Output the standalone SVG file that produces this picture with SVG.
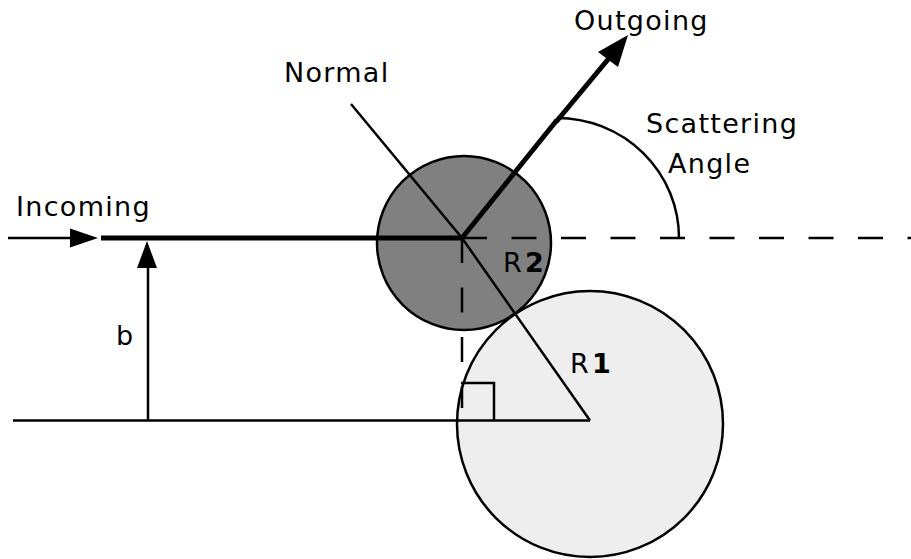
<svg xmlns="http://www.w3.org/2000/svg" width="911" height="559" viewBox="0 0 911 559">
<style>
text{font-family:"DejaVu Sans","Liberation Sans",sans-serif;font-size:27px;letter-spacing:1.3px;fill:#000}
.b{font-weight:bold}
.thin{stroke:#000;stroke-width:2.5;fill:none}
.thick{stroke:#000;stroke-width:5;fill:none}
.dash{stroke:#000;stroke-width:2.5;fill:none;stroke-dasharray:25 24.5}
.head{fill:#000;stroke:none}
</style>
<g id="sphere1"><circle cx="590" cy="424" r="133" fill="#eeeeee" stroke="#000" stroke-width="2.5"/></g>
<g id="sphere2"><circle cx="464" cy="243" r="87" fill="#808080" stroke="#000" stroke-width="2.5"/></g>
<g id="connectors">
<line class="thin" x1="8" y1="238" x2="72" y2="238"/>
<polygon class="head" points="98,238 70,228.5 70,247.5"/>
<line class="thick" x1="101" y1="238" x2="462" y2="238"/>
<line class="dash" x1="462" y1="238" x2="911" y2="238"/>
<line class="dash" x1="462" y1="238" x2="462" y2="408"/>
<line class="thin" x1="13" y1="420.5" x2="590" y2="420.5"/>
<line class="thin" x1="148" y1="420.5" x2="148" y2="262"/>
<polygon class="head" points="147,241 137,268 157,268"/>
<polyline class="thin" points="461,383 494,383 494,420.5"/>
<line class="thin" x1="351" y1="104" x2="462" y2="238"/>
<line class="thin" x1="462" y1="238" x2="590" y2="420.5"/>
<line class="thick" x1="462" y1="238" x2="557" y2="120"/>
<line class="thick" x1="556" y1="122" x2="610" y2="57"/>
<polygon class="head" points="628,35 598,52 618,67"/>
<path class="thin" d="M557,118 A122,120 0 0 1 679,238"/>
</g>
<g id="labels">
<text x="16" y="216">Incoming</text>
<text x="284" y="82">Normal</text>
<text x="574" y="30">Outgoing</text>
<text x="646" y="133">Scattering</text>
<text x="668" y="173">Angle</text>
<text x="116" y="345">b</text>
<text x="503" y="272">R<tspan class="b" x="525">2</tspan></text>
<text x="570" y="373">R<tspan class="b" x="592">1</tspan></text>
</g>
</svg>
